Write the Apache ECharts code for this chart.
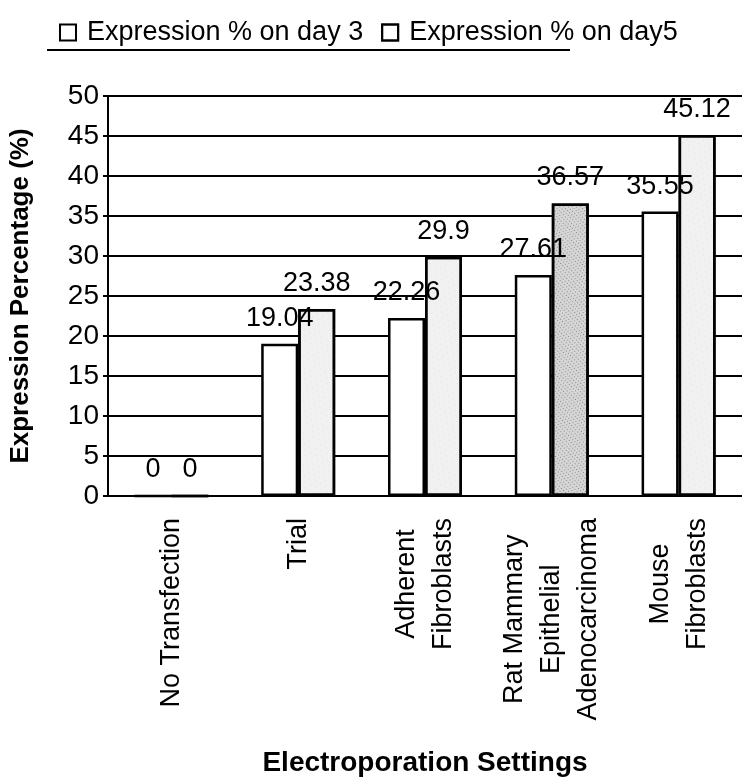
<!DOCTYPE html>
<html>
<head>
<meta charset="utf-8">
<script src="https://cdn.jsdelivr.net/npm/echarts@6/dist/echarts.min.js"></script>
<style>
html,body{margin:0;padding:0;background:#fff;}
#chart{width:742px;height:782px;}
</style>
</head>
<body>
<div id="chart"></div>
<script>
const categories = ['No Transfection', 'Trial', 'Adherent\nFibroblasts', 'Rat Mammary\nEpithelial\nAdenocarcinoma', 'Mouse\nFibroblasts'];
const seriesNames = ['Expression % on day 3', 'Expression % on day5'];
const day3 = [0, 19.04, 22.26, 27.61, 35.55];
const day5 = [0, 23.38, 29.9, 36.57, 45.12];
const yTicks = [0, 5, 10, 15, 20, 25, 30, 35, 40, 45, 50];

const FONT = '"Liberation Sans", Arial, Helvetica, sans-serif';
const chart = echarts.init(document.getElementById('chart'), null, {renderer: 'canvas'});

const lightDecal = {
  symbol: 'rect', symbolSize: 0.5, color: 'rgba(60,60,60,0.35)',
  dashArrayX: [[1, 5], [0, 3, 1, 2]], dashArrayY: [1, 4], rotation: 0.4, maxTileWidth: 64, maxTileHeight: 64
};
const darkDecal = {
  symbol: 'rect', symbolSize: 0.8, color: 'rgba(40,40,40,0.55)',
  dashArrayX: [[1, 2], [0, 1, 1, 1]], dashArrayY: [1, 2], rotation: 0.8, maxTileWidth: 64, maxTileHeight: 64
};

const labelStyle = {
  show: true, position: 'top', distance: 12,
  fontFamily: FONT, fontSize: 27, color: '#000'
};

chart.setOption({
  animation: false,
  backgroundColor: '#fff',
  textStyle: {fontFamily: FONT},
  legend: {
    left: 54, top: 14, itemGap: 18, itemWidth: 16, itemHeight: 16,
    icon: 'rect',
    data: seriesNames.map(n => ({name: n, itemStyle: {color: '#fff', borderColor: '#000', borderWidth: 2}})),
    textStyle: {fontFamily: FONT, fontSize: 27, color: '#000', padding: [0, 0, 0, 6]}
  },
  graphic: [{
    type: 'line', shape: {x1: 47, y1: 50, x2: 570, y2: 50},
    style: {stroke: '#000', lineWidth: 2}
  }],
  grid: {left: 102, right: -7, top: 96, bottom: 277, containLabel: false},
  xAxis: {
    type: 'category', data: categories,
    name: 'Electroporation Settings', nameLocation: 'middle', nameGap: 253,
    nameTextStyle: {fontFamily: FONT, fontSize: 28, fontWeight: 'bold', color: '#000'},
    axisLine: {lineStyle: {color: '#000', width: 2}},
    axisTick: {show: false},
    axisLabel: {
      rotate: 90, margin: 22, interval: 0, color: '#000', fontFamily: FONT, fontSize: 27,
      lineHeight: 37,
      formatter: v => v.split('\n').map(s => '{c|' + s + '}').join('\n'),
      rich: {c: {align: 'center', fontFamily: FONT, fontSize: 27, color: '#000', lineHeight: 37}}
    },
    splitLine: {show: false}
  },
  yAxis: {
    type: 'value', min: yTicks[0], max: yTicks[yTicks.length - 1], interval: yTicks[1] - yTicks[0],
    name: 'Expression Percentage (%)', nameLocation: 'middle', nameGap: 74, nameRotate: 90,
    nameTextStyle: {fontFamily: FONT, fontSize: 26, fontWeight: 'bold', color: '#000'},
    axisLine: {show: true, lineStyle: {color: '#000', width: 2}},
    axisTick: {show: true, length: 5, lineStyle: {color: '#000', width: 2}},
    axisLabel: {color: '#000', fontFamily: FONT, fontSize: 28, margin: 9},
    splitLine: {lineStyle: {color: '#000', width: 2}}
  },
  series: [
    {
      name: seriesNames[0], type: 'bar', data: day3, barWidth: 37, barGap: '0%',
      itemStyle: {color: '#fff', borderColor: '#000', borderWidth: 2.5},
      label: labelStyle
    },
    {
      name: seriesNames[1], type: 'bar', data: day5.map((v, i) => ({
        value: v,
        itemStyle: i === 3 ? {color: '#d6d6d6', decal: darkDecal} : undefined
      })), barWidth: 37, barGap: '0%',
      itemStyle: {color: '#f1f1f1', borderColor: '#000', borderWidth: 2.5, decal: lightDecal},
      label: labelStyle
    }
  ]
});
</script>
</body>
</html>
